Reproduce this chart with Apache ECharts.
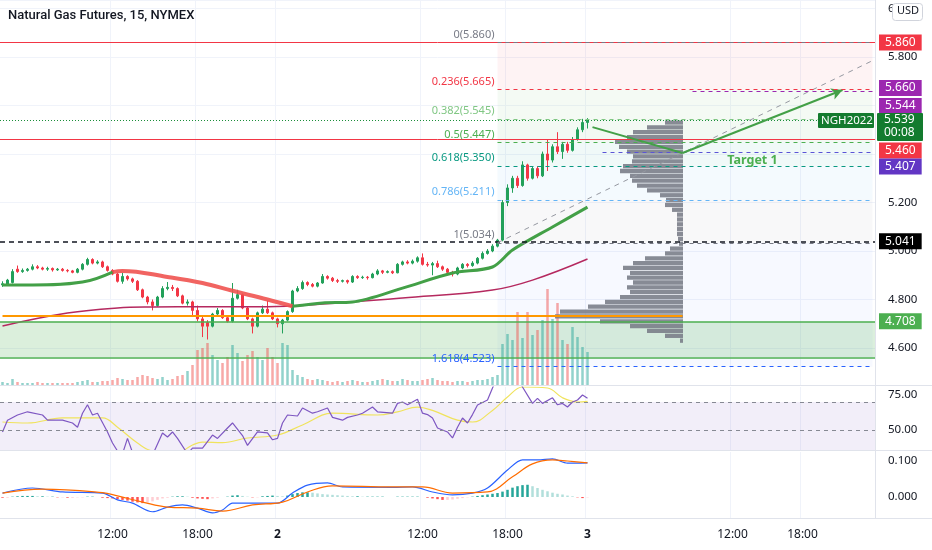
<!DOCTYPE html>
<html>
<head>
<meta charset="utf-8">
<script src="https://cdn.jsdelivr.net/npm/echarts@6.0.0/dist/echarts.min.js"></script>
<style>
  html, body { margin: 0; padding: 0; background: #fff; }
  #chart { width: 932px; height: 550px; }
</style>
</head>
<body>
<div id="chart"></div>
<script>
// 15 min slots across the visible range (bars + empty future space)
const slots = Array.from({ length: 175 }, (_, i) => i)
const tickSlots = [22, 39, 55, 84, 101, 117, 146, 160]
const tickText = ['12:00', '18:00', '2', '12:00', '18:00', '3', '12:00', '18:00']

const opens = [4.860, 4.862, 4.870, 4.925, 4.915, 4.920, 4.925, 4.935, 4.930, 4.925, 4.928, 4.922, 4.925, 4.920, 4.918, 4.912, 4.925, 4.945, 4.965, 4.950,
  4.955, 4.935, 4.920, 4.905, 4.875, 4.895, 4.885, 4.875, 4.840, 4.810, 4.790, 4.775, 4.810, 4.845, 4.850, 4.845, 4.815, 4.785, 4.790, 4.755,
  4.720, 4.705, 4.690, 4.740, 4.755, 4.725, 4.710, 4.805, 4.820, 4.765, 4.720, 4.690, 4.745, 4.760, 4.745, 4.720, 4.700, 4.715, 4.750, 4.835,
  4.845, 4.870, 4.862, 4.855, 4.868, 4.895, 4.888, 4.878, 4.875, 4.878, 4.872, 4.895, 4.890, 4.892, 4.890, 4.905, 4.918, 4.912, 4.915, 4.910,
  4.945, 4.955, 4.950, 4.958, 4.972, 4.945, 4.942, 4.948, 4.935, 4.925, 4.912, 4.905, 4.930, 4.945, 4.940, 4.950, 4.970, 4.990, 5.000, 5.020,
  5.045, 5.200, 5.260, 5.300, 5.270, 5.355, 5.300, 5.340, 5.310, 5.400, 5.375, 5.430, 5.410, 5.440, 5.415, 5.460, 5.500, 5.530]
const closes = [4.865, 4.880, 4.915, 4.915, 4.920, 4.925, 4.935, 4.930, 4.925, 4.928, 4.922, 4.925, 4.920, 4.918, 4.912, 4.925, 4.945, 4.965, 4.950, 4.955,
  4.935, 4.920, 4.905, 4.875, 4.895, 4.885, 4.875, 4.840, 4.810, 4.790, 4.775, 4.810, 4.845, 4.850, 4.845, 4.815, 4.785, 4.790, 4.755, 4.720,
  4.690, 4.690, 4.740, 4.755, 4.725, 4.710, 4.805, 4.820, 4.765, 4.720, 4.690, 4.745, 4.760, 4.745, 4.720, 4.700, 4.715, 4.750, 4.835, 4.845,
  4.870, 4.862, 4.855, 4.868, 4.895, 4.888, 4.878, 4.875, 4.878, 4.872, 4.895, 4.890, 4.892, 4.890, 4.905, 4.918, 4.912, 4.915, 4.910, 4.945,
  4.955, 4.950, 4.958, 4.972, 4.945, 4.942, 4.948, 4.935, 4.925, 4.912, 4.905, 4.930, 4.945, 4.940, 4.950, 4.970, 4.990, 5.000, 5.020, 5.045,
  5.200, 5.260, 5.300, 5.270, 5.355, 5.300, 5.340, 5.310, 5.400, 5.375, 5.430, 5.410, 5.440, 5.415, 5.460, 5.500, 5.530, 5.539]
const lows = [4.852, 4.858, 4.866, 4.910, 4.910, 4.915, 4.920, 4.925, 4.920, 4.918, 4.915, 4.918, 4.915, 4.912, 4.908, 4.908, 4.920, 4.940, 4.945, 4.945,
  4.930, 4.915, 4.900, 4.870, 4.865, 4.878, 4.868, 4.835, 4.805, 4.780, 4.755, 4.770, 4.805, 4.838, 4.835, 4.810, 4.780, 4.775, 4.735, 4.710,
  4.645, 4.635, 4.685, 4.735, 4.720, 4.705, 4.705, 4.800, 4.760, 4.715, 4.660, 4.685, 4.740, 4.740, 4.715, 4.685, 4.660, 4.710, 4.745, 4.830,
  4.840, 4.855, 4.850, 4.850, 4.865, 4.882, 4.872, 4.868, 4.870, 4.865, 4.868, 4.885, 4.885, 4.882, 4.887, 4.900, 4.905, 4.908, 4.905, 4.908,
  4.940, 4.945, 4.945, 4.952, 4.940, 4.935, 4.900, 4.930, 4.918, 4.900, 4.895, 4.900, 4.925, 4.932, 4.935, 4.945, 4.965, 4.985, 4.995, 5.015,
  5.040, 5.185, 5.240, 5.260, 5.265, 5.290, 5.295, 5.300, 5.305, 5.330, 5.365, 5.400, 5.380, 5.405, 5.410, 5.455, 5.490, 5.505]
const highs = [4.875, 4.885, 4.925, 4.940, 4.928, 4.930, 4.945, 4.942, 4.935, 4.935, 4.932, 4.930, 4.930, 4.925, 4.922, 4.930, 4.950, 4.972, 4.970, 4.962,
  4.960, 4.940, 4.925, 4.910, 4.910, 4.900, 4.890, 4.880, 4.845, 4.815, 4.800, 4.815, 4.855, 4.872, 4.860, 4.850, 4.820, 4.800, 4.795, 4.775,
  4.730, 4.715, 4.745, 4.765, 4.760, 4.730, 4.868, 4.840, 4.825, 4.770, 4.725, 4.750, 4.775, 4.795, 4.750, 4.725, 4.720, 4.755, 4.840, 4.855,
  4.878, 4.875, 4.868, 4.872, 4.905, 4.900, 4.893, 4.885, 4.882, 4.882, 4.900, 4.900, 4.898, 4.897, 4.910, 4.925, 4.922, 4.920, 4.920, 4.950,
  4.960, 4.962, 4.965, 4.978, 4.990, 4.955, 4.955, 4.960, 4.940, 4.930, 4.918, 4.935, 4.950, 4.950, 4.958, 4.975, 4.998, 5.008, 5.028, 5.050,
  5.210, 5.275, 5.310, 5.310, 5.370, 5.360, 5.350, 5.350, 5.410, 5.458, 5.440, 5.490, 5.450, 5.450, 5.470, 5.510, 5.545, 5.548]
const volumes = [3, 2, 6, 3, 2, 2, 2, 3, 2, 2, 2,
  2, 2, 2, 2, 3, 4, 5, 3, 3, 4, 4, 5,
  7, 6, 5, 5, 8, 10, 9, 7, 6, 8, 5, 6, 9, 10, 14,
  20, 35, 37, 42, 30, 25, 22, 28, 40, 32, 24, 30, 34, 28, 25, 37, 28, 22, 42, 40,
  15, 10, 8, 6, 5, 6, 5,
  4, 3, 4, 3, 4, 5, 4, 3, 3, 4, 5, 6, 5, 4, 4, 6, 5, 4, 4, 5, 6, 7, 5, 4, 4, 3, 4, 4, 3, 4, 5, 5, 6, 8, 10,
  41, 51, 45, 73, 47, 73, 50, 55, 65, 96, 66, 82, 45, 41, 58, 48, 38, 33]

// thick moving average, split where it changes colour; thin slow average
const maRiseA = [[0, 4.860], [6, 4.860], [16, 4.872], [22, 4.913]]
const maFall = [[22, 4.913], [24, 4.918], [33, 4.893], [40, 4.868], [46, 4.836], [53, 4.800], [58, 4.772]]
const maRiseB = [[58, 4.772], [64, 4.786], [70, 4.790], [80, 4.847], [90, 4.909], [98, 4.934], [102, 5.004], [110, 5.099], [117, 5.181]]
const maSlow = [[0, 4.691], [13, 4.744], [23, 4.765], [30, 4.769], [40, 4.770], [53, 4.770], [64, 4.781], [80, 4.806], [98, 4.839], [106, 4.880], [117, 4.967]]

// visible range volume profile
const profilePrices = [4.63, 4.65, 4.67, 4.69, 4.71, 4.73, 4.75, 4.77, 4.79, 4.81, 4.83, 4.85, 4.87, 4.89, 4.91, 4.93, 4.95, 4.97, 4.99, 5.01, 5.03, 5.05, 5.07,
  5.09, 5.11, 5.13, 5.15, 5.17, 5.19, 5.21, 5.23, 5.25, 5.27, 5.29, 5.31, 5.33, 5.35, 5.37, 5.39, 5.41, 5.43, 5.45, 5.47, 5.49, 5.51, 5.53]
const profileVols = [3, 18, 36, 53, 83, 128, 123, 95, 78, 63, 53, 56, 50, 56, 53, 60, 50, 38, 18, 13, 4, 5, 6,
  6, 6, 6, 6, 11, 18, 17, 23, 36, 46, 51, 53, 63, 60, 51, 50, 56, 64, 68, 56, 50, 36, 18]

const rsi = [[0, 48.6], [1, 57], [3, 60.7], [5, 63], [8, 60.7], [9, 57], [12, 57], [14, 55], [15, 52], [16, 62], [17, 68], [18, 60.7], [19, 62], [21, 48.6],
  [22, 40.7], [23, 35], [24, 33], [25, 44], [26, 34], [28, 30], [30, 32], [32, 47.9], [33, 45], [34, 48.6], [35, 44], [37, 33], [38, 37], [40, 37],
  [42, 46.4], [43, 44], [45, 51.4], [46, 55], [48, 46], [49, 39], [51, 48.6], [53, 48], [54, 43], [55, 44], [56, 55], [57, 60.7], [59, 60], [60, 65.7],
  [62, 62], [63, 63], [65, 65.7], [66, 59], [68, 57], [69, 59], [71, 60.7], [72, 62], [74, 66.4], [75, 63], [78, 62], [79, 69], [80, 70], [81, 68],
  [83, 72], [84, 62], [85, 61], [86, 58.6], [87, 51.4], [89, 48.6], [90, 44.3], [91, 52], [92, 58.6], [93, 55], [94, 61], [95, 67.9], [97, 71.4],
  [98, 80], [99, 88], [101, 92], [103, 88], [104, 80.7], [106, 69], [107, 72.6], [108, 69], [110, 73], [111, 68], [112, 69], [113, 66.4], [114, 70],
  [115, 71.4], [116, 75], [117, 72.6]]
const rsiMa = [[0, 55.7], [5, 55], [12, 58.6], [20, 58.6], [23, 52], [27, 40.7], [30, 35], [35, 34], [38, 39.3], [40, 41.4], [44, 41], [49, 44.3],
  [55, 46.4], [60, 53.6], [66, 62], [75, 60.7], [79, 63], [83, 66.4], [86, 64], [91, 57], [94, 55.7], [98, 64], [101, 73.6], [104, 80.7], [109, 80],
  [112, 73], [115, 70], [117, 70.5]]

const macd = [[0, 0.011], [6, 0.025], [12, 0.014], [20, 0.011], [23, -0.008], [26, -0.017], [30, -0.041], [33, -0.028], [36, -0.022], [39, -0.031],
  [42, -0.044], [44, -0.036], [46, -0.017], [50, -0.017], [55, -0.017], [58, 0.011], [61, 0.033], [65, 0.039], [68, 0.028], [78, 0.027], [82, 0.028],
  [86, 0.014], [90, 0.006], [94, 0.011], [97, 0.025], [101, 0.075], [104, 0.103], [107, 0.103], [110, 0.106], [113, 0.094], [117, 0.095]]
const signal = [[0, 0.011], [8, 0.022], [20, 0.012], [23, 0.003], [28, -0.014], [33, -0.028], [39, -0.031], [44, -0.039], [50, -0.022], [56, -0.014],
  [61, 0.014], [66, 0.031], [78, 0.028], [84, 0.028], [90, 0.011], [97, 0.014], [102, 0.056], [106, 0.092], [110, 0.103], [113, 0.1], [117, 0.095]]
const hist = [-0.002, -0.002, 0.001, 0.002, 0.003, 0.003, 0.003, 0.002, 0.002, 0.001, 0.001,
  -0.001, -0.001, -0.002, -0.002, -0.001, -0.001, 0.001, 0.001, 0.000, -0.002, -0.003, -0.004,
  -0.006, -0.008, -0.010, -0.013, -0.015, -0.017, -0.015, -0.012, -0.008, -0.004, -0.002, 0.001, 0.002, 0.002, 0.001,
  -0.002, -0.004, -0.005, -0.006, -0.004, -0.002, 0.000, 0.001, 0.004, 0.005, 0.003, 0.001, -0.001, -0.001, 0.002, 0.003, 0.004, 0.003, 0.002, 0.004,
  0.008, 0.011, 0.013, 0.013, 0.012, 0.010, 0.008,
  0.007, 0.006, 0.005, 0.004, 0.003, 0.002, 0.002, 0.001, 0.001, 0.001, 0.001, 0.001, 0.000, 0.000, 0.001, 0.001, 0.001, 0.001, 0.001, 0.000,
  -0.002, -0.004, -0.006, -0.008, -0.008, -0.007, -0.005, -0.003, -0.001, 0.001, 0.003, 0.005, 0.007, 0.009, 0.011,
  0.015, 0.020, 0.026, 0.030, 0.033, 0.034, 0.030, 0.025, 0.020, 0.016, 0.012, 0.009, 0.007, 0.004, 0.002, -0.001, -0.003, -0.001]

// fibonacci retracement drawn from the 5.034 low to the 5.860 high
const fibRatios = ['0', '0.236', '0.382', '0.5', '0.618', '0.786', '1', '1.618']
const fibPrices = [5.860, 5.665, 5.545, 5.447, 5.350, 5.211, 5.034, 4.523]
const fibColors = ['#787B86', '#F23645', '#81C784', '#4CAF50', '#089981', '#64B5F6', '#787B86', '#2962FF']
const fibFills = ['rgba(242,54,69,0.06)', 'rgba(129,199,132,0.09)', 'rgba(76,175,80,0.07)', 'rgba(8,153,129,0.06)',
  'rgba(100,181,246,0.07)', 'rgba(120,123,134,0.05)', 'rgba(41,98,255,0.04)']

// price scale tags
const tagPrices = [5.860, 5.660, 5.544, 5.460, 5.407, 5.041, 4.708]
const tagColors = ['#F23645', '#9C27B0', '#9C27B0', '#F23645', '#6236C4', '#000000', '#4CAF50']
const tagShift = [0, -3, -14, 11, 15, 0, 0]
// last price tag with the bar countdown
const lastPrice = 5.539
const countdown = '00:08'
const symbolName = 'NGH2022'

const FONT = 'Noto Sans'
const TXT = '#131722'
const UP = '#22A05A', DOWN = '#F23645'
const LAST = '#137B2E'
const grid = '#F0F3FA'

const xBase = (g, extra) => Object.assign({
  type: 'category', data: slots, gridIndex: g, boundaryGap: true,
  axisLine: { show: false }, axisTick: { show: false }, axisLabel: { show: false },
  splitLine: { show: true, interval: (i) => tickSlots.includes(i), lineStyle: { color: grid } }
}, extra || {})

const chart = echarts.init(document.getElementById('chart'), null, { renderer: 'canvas' })

const fibLines = fibPrices.map((p, k) => [
  { coord: [99, p], lineStyle: { color: fibColors[k], type: [4, 4], width: 1 } },
  { coord: [174, p] }
])
const fibAreas = fibFills.map((c, k) => [
  { coord: [99, fibPrices[k]], itemStyle: { color: c } },
  { coord: [174, fibPrices[k + 1]] }
])
const fibLabels = fibPrices.map((p, k) => ({
  coord: [99, p], symbolSize: 0,
  label: {
    show: true, position: 'left', distance: 3, offset: [0, -8],
    formatter: fibRatios[k] + '(' + p.toFixed(3) + ')', color: fibColors[k], fontSize: 11, fontFamily: FONT
  }
}))
const tags = tagPrices.map((p, k) => ({
  yAxis: p, lineStyle: { color: 'rgba(0,0,0,0)', width: 0 },
  label: {
    show: true, position: 'end', distance: 4, offset: [0, tagShift[k]],
    formatter: p.toFixed(3),
    backgroundColor: tagColors[k], color: '#fff', padding: [2, 6, 1, 6], lineHeight: 13,
    fontSize: 12, fontFamily: FONT
  }
}))

const histData = hist.map((v, i) => {
  const prev = i ? hist[i - 1] : 0
  const c = v >= 0 ? (v >= prev ? '#26A69A' : '#B2DFDB') : (v < prev ? '#FF5252' : '#FFCDD2')
  return { value: v, itemStyle: { color: c } }
})

chart.setOption({
  animation: false,
  backgroundColor: '#fff',
  textStyle: { fontFamily: FONT },
  grid: [
    { left: 0, top: 0, width: 875, height: 385, outerBoundsMode: 'none' },
    { left: 0, top: 281, width: 875, height: 104, outerBoundsMode: 'none' },
    { left: 540, top: 120.1, width: 143, height: 223, outerBoundsMode: 'none' },
    { left: 0, top: 387, width: 875, height: 63, outerBoundsMode: 'none' },
    { left: 0, top: 452, width: 875, height: 66, outerBoundsMode: 'none' }
  ],
  xAxis: [
    xBase(0),
    xBase(1, { splitLine: { show: false } }),
    { type: 'value', gridIndex: 2, inverse: true, min: 0, max: 143, show: false },
    xBase(3),
    xBase(4, {
      axisLabel: {
        show: true, interval: (i) => tickSlots.includes(i), margin: 11, color: TXT, fontSize: 12, fontFamily: FONT,
        formatter: (v, i) => {
          const t = tickText[tickSlots.indexOf(i)] || ''
          return t.includes(':') ? t : '{d|' + t + '}'
        },
        rich: { d: { fontWeight: 'bold', fontSize: 12, color: TXT, fontFamily: FONT } }
      }
    })
  ],
  yAxis: [
    {
      type: 'value', gridIndex: 0, position: 'right', min: 4.4474, max: 6.0351, splitNumber: 8,
      axisLine: { show: false }, axisTick: { show: false },
      axisLabel: { customValues: [4.6, 4.8, 5.0, 5.2, 5.4, 5.6, 5.8, 6.0], margin: 13, color: TXT, fontSize: 11.5, fontFamily: FONT, formatter: (v) => v.toFixed(3) },
      splitLine: { lineStyle: { color: grid } }
    },
    { type: 'value', gridIndex: 1, min: 0, max: 104, show: false },
    { type: 'category', gridIndex: 2, data: profilePrices, show: false },
    {
      type: 'value', gridIndex: 3, position: 'right', min: 35.71, max: 80.71,
      axisLine: { show: false }, axisTick: { show: false }, splitLine: { show: false },
      axisLabel: { customValues: [50, 75], margin: 13, color: TXT, fontSize: 11.5, fontFamily: FONT, formatter: (v) => v.toFixed(2) }
    },
    {
      type: 'value', gridIndex: 4, position: 'right', min: -0.0583, max: 0.125,
      axisLine: { show: false }, axisTick: { show: false }, splitLine: { show: false },
      axisLabel: { customValues: [0, 0.1], margin: 13, color: TXT, fontSize: 11.5, fontFamily: FONT, formatter: (v) => v.toFixed(3) }
    }
  ],
  series: [
    {
      // background zones: fib bands and the green support box
      type: 'line', xAxisIndex: 0, yAxisIndex: 0, data: [], silent: true,
      markArea: {
        silent: true,
        data: fibAreas.concat([[
          { yAxis: 4.708, itemStyle: { color: 'rgba(76,175,80,0.2)' } },
          { yAxis: 4.563 }
        ]])
      }
    },
    {
      type: 'candlestick', xAxisIndex: 0, yAxisIndex: 0, z: 3, barWidth: 3,
      data: opens.map((o, i) => [o, closes[i], lows[i], highs[i]]),
      itemStyle: { color: UP, color0: DOWN, borderColor: UP, borderColor0: DOWN, borderWidth: 1 }
    },
    { type: 'line', xAxisIndex: 0, yAxisIndex: 0, z: 4, data: maSlow, smooth: 0.4, showSymbol: false, lineStyle: { color: '#B5295F', width: 1.5 } },
    { type: 'line', xAxisIndex: 0, yAxisIndex: 0, z: 4, data: maFall, smooth: 0.4, showSymbol: false, lineStyle: { color: '#EF5350', width: 4, opacity: 0.9 } },
    { type: 'line', xAxisIndex: 0, yAxisIndex: 0, z: 4, data: maRiseA, smooth: 0.4, showSymbol: false, lineStyle: { color: '#43A047', width: 3 } },
    { type: 'line', xAxisIndex: 0, yAxisIndex: 0, z: 4, data: maRiseB, smooth: 0.3, showSymbol: false, lineStyle: { color: '#43A047', width: 3 } },
    {
      type: 'bar', xAxisIndex: 1, yAxisIndex: 1, barWidth: 2.5, z: 2,
      data: volumes.map((v, i) => ({ value: v, itemStyle: { color: closes[i] >= opens[i] ? 'rgba(38,166,154,0.5)' : 'rgba(239,83,80,0.5)' } }))
    },
    {
      type: 'bar', xAxisIndex: 2, yAxisIndex: 2, data: profileVols, barCategoryGap: '12%', z: 2,
      itemStyle: { color: 'rgba(120,123,134,0.88)' }
    },
    {
      // drawings and level lines
      type: 'line', xAxisIndex: 0, yAxisIndex: 0, data: [], z: 6,
      markLine: {
        silent: true, symbol: ['none', 'none'], animation: false,
        label: { show: false },
        data: [
          { yAxis: 5.860, lineStyle: { color: '#F23645', type: 'solid', width: 1 } },
          { yAxis: 5.460, lineStyle: { color: '#F23645', type: 'solid', width: 1 } },
          { yAxis: lastPrice, lineStyle: { color: '#1B8E3A', type: [1, 2], width: 1 } },
          { yAxis: 5.041, lineStyle: { color: '#131722', type: [5, 4], width: 1.5 } },
          { yAxis: 4.708, lineStyle: { color: '#4CAF50', type: 'solid', width: 1.5 } },
          { yAxis: 4.563, lineStyle: { color: '#4CAF50', type: 'solid', width: 1.5 } },
          [{ coord: [0, 4.732], lineStyle: { color: '#FF9800', type: 'solid', width: 2 } }, { coord: [136, 4.732] }],
          [{ coord: [138, 5.660], lineStyle: { color: '#9C27B0', type: [4, 4], width: 1 } }, { coord: [174, 5.660] }],
          [{ coord: [120, 5.407], lineStyle: { color: '#5B54D6', type: [4, 4], width: 1 } }, { coord: [174, 5.407] }],
          [{ coord: [99, 5.034], lineStyle: { color: '#9598A1', type: [5, 5], width: 1 } }, { coord: [174, 5.785] }],
          [{ coord: [118, 5.511], lineStyle: { color: '#43A047', type: 'solid', width: 2 } }, { coord: [136, 5.404] }],
          [{ coord: [136, 5.404], lineStyle: { color: '#43A047', type: 'solid', width: 2 } },
            { coord: [168, 5.664], symbol: 'arrow', symbolSize: [9, 11] }]
        ].concat(fibLines).concat(tags)
      },
      markPoint: {
        silent: true, symbol: 'circle', symbolSize: 0,
        data: fibLabels.concat([
          {
            coord: [150, 5.375], symbolSize: 0,
            label: { show: true, position: 'inside', formatter: 'Target 1', color: '#4CAF50', fontSize: 12.5, fontWeight: 'bold', fontFamily: FONT }
          }
        ])
      }
    },
    {
      type: 'line', xAxisIndex: 3, yAxisIndex: 3, data: rsiMa, smooth: 0.4, showSymbol: false, z: 3,
      lineStyle: { color: '#F0E35C', width: 1.2 },
      markArea: { silent: true, data: [[{ yAxis: 70, itemStyle: { color: 'rgba(126,87,194,0.1)' } }, { yAxis: 'min' }]] },
      markLine: {
        silent: true, symbol: ['none', 'none'], label: { show: false },
        lineStyle: { color: '#868993', type: [4, 4], width: 1 },
        data: [{ yAxis: 70 }, { yAxis: 50 }]
      }
    },
    { type: 'line', xAxisIndex: 3, yAxisIndex: 3, data: rsi, showSymbol: false, z: 4, lineStyle: { color: '#7E57C2', width: 1.2 } },
    { type: 'bar', xAxisIndex: 4, yAxisIndex: 4, data: histData, barWidth: 2.5 },
    { type: 'line', xAxisIndex: 4, yAxisIndex: 4, data: macd, smooth: 0.3, showSymbol: false, z: 4, lineStyle: { color: '#2962FF', width: 1.2 } },
    { type: 'line', xAxisIndex: 4, yAxisIndex: 4, data: signal, smooth: 0.4, showSymbol: false, z: 4, lineStyle: { color: '#FF6D00', width: 1.2 } }
  ]
})

// pane separators, title, currency box and the last price tag (placed on the latest close through the price scale)
let lastY = chart.convertToPixel({ gridIndex: 0 }, [174, lastPrice])
lastY = Array.isArray(lastY) ? lastY[1] : lastY
if (!isFinite(lastY)) lastY = 120
const tagTop = Math.round(lastY) - 7

chart.setOption({
  graphic: [
    { type: 'line', shape: { x1: 0, y1: 385.5, x2: 932, y2: 385.5 }, style: { stroke: '#E0E3EB', lineWidth: 1 }, z: 100 },
    { type: 'line', shape: { x1: 0, y1: 450.5, x2: 932, y2: 450.5 }, style: { stroke: '#E0E3EB', lineWidth: 1 }, z: 100 },
    { type: 'line', shape: { x1: 0, y1: 518.5, x2: 932, y2: 518.5 }, style: { stroke: '#E0E3EB', lineWidth: 1 }, z: 100 },
    { type: 'line', shape: { x1: 875.5, y1: 0, x2: 875.5, y2: 518 }, style: { stroke: '#E0E3EB', lineWidth: 1 }, z: 100 },
    {
      type: 'text', left: 8, top: 9, z: 100,
      style: { text: 'Natural Gas Futures, 15, NYMEX', fill: TXT, fontSize: 13, fontWeight: 500, fontFamily: 'Roboto' }
    },
    { type: 'rect', left: 892, top: 3, z: 100, shape: { width: 30, height: 17, r: 3 }, style: { fill: '#fff', stroke: '#D1D4DC', lineWidth: 1 } },
    { type: 'text', left: 897, top: 5.5, z: 101, style: { text: 'USD', fill: TXT, fontSize: 11, fontFamily: FONT } },
    { type: 'rect', left: 877, top: tagTop, z: 110, shape: { width: 46, height: 28, r: 1 }, style: { fill: LAST } },
    { type: 'text', left: 884, top: tagTop + 1, z: 111, style: { text: lastPrice.toFixed(3), fill: '#fff', fontSize: 12, fontFamily: FONT } },
    { type: 'text', left: 884, top: tagTop + 14, z: 111, style: { text: countdown, fill: '#fff', fontSize: 12, fontFamily: FONT } },
    { type: 'rect', left: 818, top: tagTop, z: 110, shape: { width: 56, height: 15, r: 1 }, style: { fill: LAST } },
    { type: 'text', left: 821, top: tagTop + 1.5, z: 111, style: { text: symbolName, fill: '#fff', fontSize: 11.5, fontFamily: FONT } }
  ]
})
</script>
</body>
</html>
